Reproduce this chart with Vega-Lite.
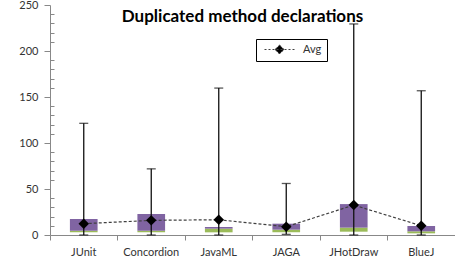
{
  "$schema": "https://vega.github.io/schema/vega-lite/v6.json",
  "width": 405,
  "height": 230,
  "autosize": {"type": "none"},
  "padding": {"left": 50, "top": 5, "right": 0, "bottom": 32},
  "background": "white",
  "title": {"text": "Duplicated method declarations", "font": "Lato", "fontSize": 17, "fontWeight": "bold", "color": "black", "anchor": "middle", "dx": -10, "offset": -27},
  "config": {
    "view": {"stroke": null},
    "axis": {"grid": false, "domainColor": "#888", "tickColor": "#888", "labelFont": "Lato", "labelFontSize": 11, "labelColor": "#333", "title": null},
    "axisY": {"labelOverlap": false, "labelPadding": 6}
  },
  "data": {"values": [
    {"project": "JUnit", "min": 0, "q1": 2.9, "med": 4.7, "q3": 17.3, "max": 121.4, "avg": 12.3},
    {"project": "Concordion", "min": 0, "q1": 3.0, "med": 4.7, "q3": 22.8, "max": 71.9, "avg": 15.9},
    {"project": "JavaML", "min": 0, "q1": 2.9, "med": 6.9, "q3": 8.7, "max": 159.7, "avg": 16.6},
    {"project": "JAGA", "min": 0.7, "q1": 3.0, "med": 5.8, "q3": 12.3, "max": 56, "avg": 9.0},
    {"project": "JHotDraw", "min": 0, "q1": 3.6, "med": 8.0, "q3": 33.6, "max": 229.4, "avg": 32.5},
    {"project": "BlueJ", "min": 0, "q1": 1.8, "med": 4.0, "q3": 9.8, "max": 156.8, "avg": 10.1}
  ]},
  "encoding": {
    "x": {"field": "project", "type": "nominal", "sort": null, "scale": {"paddingInner": 0, "paddingOuter": 0},
      "axis": {"labelAngle": 0, "bandPosition": 0, "tickSize": 5, "labelPadding": 6, "domainWidth": 1}}
  },
  "layer": [
    {"mark": {"type": "bar", "color": "#9BBB59", "width": {"band": 0.41}},
     "encoding": {"y": {"field": "q1", "type": "quantitative", "scale": {"domain": [0, 250], "nice": false},
        "axis": {"values": [0,10,20,30,40,50,60,70,80,90,100,110,120,130,140,150,160,170,180,190,200,210,220,230,240,250],
          "tickCount": 30,
          "labelOverlap": false,
          "labelExpr": "(datum.value % 50 == 0) ? datum.label : ''",
          "tickSize": {"condition": {"test": "datum.value % 50 == 0", "value": 6}, "value": -4}}},
      "y2": {"field": "med"}}},
    {"mark": {"type": "bar", "color": "#8064A2", "width": {"band": 0.41}},
     "encoding": {"y": {"field": "med", "type": "quantitative"}, "y2": {"field": "q3"}}},
    {"mark": {"type": "rule", "color": "#111", "strokeWidth": 1.3},
     "encoding": {"y": {"field": "min", "type": "quantitative"}, "y2": {"field": "max"}}},
    {"mark": {"type": "tick", "color": "#111", "size": 9, "thickness": 1.3, "orient": "horizontal"},
     "encoding": {"y": {"field": "max", "type": "quantitative"}}},
    {"mark": {"type": "tick", "color": "#111", "size": 9, "thickness": 1.3, "orient": "horizontal"},
     "encoding": {"y": {"field": "min", "type": "quantitative"}}},
    {"mark": {"type": "line", "strokeDash": [3, 2], "strokeWidth": 1.2},
     "encoding": {"y": {"field": "avg", "type": "quantitative"},
       "color": {"datum": "Avg", "type": "nominal", "scale": {"range": ["#404040"]},
         "legend": {"title": null, "orient": "none", "legendX": 206, "legendY": 34, "padding": 5,
           "strokeColor": "black", "fillColor": "white", "cornerRadius": 0,
           "symbolType": "M-3,0L3,0M0,-0.9L0.9,0L0,0.9L-0.9,0Z", "symbolSize": 100, "symbolOffset": 13,
           "symbolStrokeWidth": 1, "symbolDash": [2, 2], "symbolFillColor": "black", "symbolStrokeColor": "#404040",
           "labelOffset": 18, "labelFont": "Lato", "labelFontSize": 11, "labelColor": "#333"}}}},
    {"mark": {"type": "point", "shape": "diamond", "filled": true, "color": "black", "size": 110, "opacity": 1},
     "encoding": {"y": {"field": "avg", "type": "quantitative"}}}
  ]
}
